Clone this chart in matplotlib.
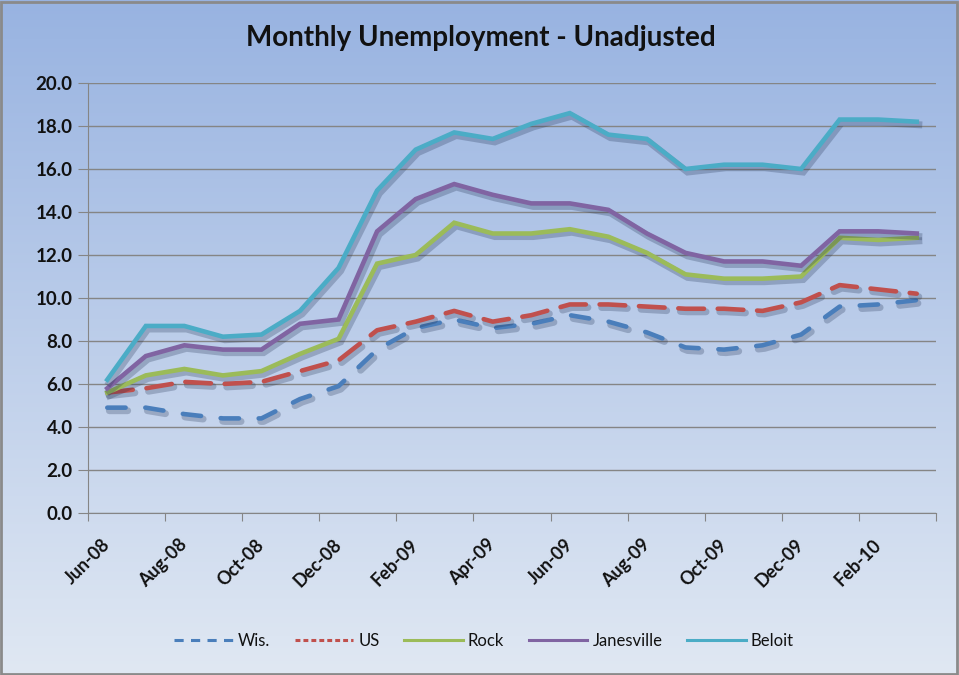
import numpy as np
import matplotlib
matplotlib.use("Agg")
import matplotlib.pyplot as plt
import matplotlib.patheffects as pe
from matplotlib.lines import Line2D
from matplotlib.patches import Rectangle

months = ["Jun-08", "Jul-08", "Aug-08", "Sep-08", "Oct-08", "Nov-08", "Dec-08",
          "Jan-09", "Feb-09", "Mar-09", "Apr-09", "May-09", "Jun-09", "Jul-09",
          "Aug-09", "Sep-09", "Oct-09", "Nov-09", "Dec-09", "Jan-10", "Feb-10", "Mar-10"]

wis = [4.9, 4.9, 4.6, 4.4, 4.4, 5.3, 5.9, 7.6, 8.6, 9.0, 8.6, 8.8, 9.2, 8.9,
       8.4, 7.7, 7.6, 7.8, 8.3, 9.6, 9.7, 9.9]
us = [5.6, 5.8, 6.1, 6.0, 6.1, 6.6, 7.1, 8.5, 8.9, 9.4, 8.9, 9.2, 9.7, 9.7,
      9.6, 9.5, 9.5, 9.4, 9.8, 10.6, 10.4, 10.2]
rock = [5.6, 6.4, 6.7, 6.4, 6.6, 7.4, 8.1, 11.6, 12.0, 13.5, 13.0, 13.0, 13.2, 12.85,
        12.1, 11.1, 10.9, 10.9, 11.0, 12.8, 12.7, 12.8]
janesville = [5.8, 7.3, 7.8, 7.6, 7.6, 8.8, 9.0, 13.1, 14.6, 15.3, 14.8, 14.4, 14.4, 14.1,
              13.0, 12.1, 11.7, 11.7, 11.5, 13.1, 13.1, 13.0]
beloit = [6.2, 8.7, 8.7, 8.2, 8.3, 9.4, 11.4, 15.0, 16.9, 17.7, 17.4, 18.1, 18.6, 17.6,
          17.4, 16.0, 16.2, 16.2, 16.0, 18.3, 18.3, 18.2]

series_names = ["Wis.", "US", "Rock", "Janesville", "Beloit"]
series_vals = [wis, us, rock, janesville, beloit]
colors = ["#4a7ebb", "#c0504d", "#9bbb59", "#8064a2", "#4bacc6"]
dash_patterns = [(4.0, 4.3), (5.6, 3.0), None, None, None]
legend_dashes = [(3.0, 2.4), (1.6, 1.0), None, None, None]

title = "Monthly Unemployment - Unadjusted"
yticks = [0, 2, 4, 6, 8, 10, 12, 14, 16, 18, 20]

W, H = 959, 675
fig = plt.figure(figsize=(W / 100, H / 100), dpi=100)

# background gradient
bg = fig.add_axes([0, 0, 1, 1], zorder=-10)
top = np.array([152, 179, 225]) / 255.0
bot = np.array([224, 232, 243]) / 255.0
t = np.linspace(0, 1, 256)[:, None]
grad = top[None, None, :] * (1 - t[:, :, None]) + bot[None, None, :] * t[:, :, None]
grad = np.repeat(grad, 2, axis=1)
bg.imshow(grad, aspect="auto", extent=[0, 1, 0, 1], origin="upper")
bg.add_patch(Rectangle((0.001, 0.0015), 0.997, 0.996, fill=False,
                       edgecolor="#8a8a8a", linewidth=2.0, transform=bg.transAxes))
bg.set_axis_off()

ax = fig.add_axes([88 / W, 1 - 513 / H, (936 - 88) / W, (513 - 83) / H])
ax.set_facecolor("none")

x = np.arange(len(months))
for name, vals, c, d in zip(series_names, series_vals, colors, dash_patterns):
    ln, = ax.plot(x, vals, color=c, lw=3.3, solid_joinstyle="miter", zorder=3,
                  label=name)
    if d is not None:
        ln.set_dashes(d)
        ln.set_dash_capstyle("round")
    ln.set_path_effects([pe.SimpleLineShadow(offset=(1.5, -2.2), shadow_color="#1a2a4a",
                                             alpha=0.25, linewidth=5.0),
                         pe.Normal()])

ax.set_xlim(-0.5, len(months) - 0.5)
ax.set_ylim(0, 20)

ax.set_yticks(yticks)
ax.set_yticklabels([f"{v:.1f}" for v in yticks], fontsize=13.5, fontweight="bold",
                   family="Lato", color="#111111")
ax.yaxis.grid(True, color="#858585", lw=1.0)
ax.set_axisbelow(True)

# major ticks at month boundaries (every 2 months), labels at every other month
ax.set_xticks(np.arange(-0.5, len(months), 2.0))
ax.set_xticklabels([])
ax.set_xticks(x[::2], [months[i] for i in x[::2]], minor=True)
ax.tick_params(axis="x", which="major", length=6, color="#858585", direction="out")
ax.tick_params(axis="x", which="minor", length=0, pad=21)
ax.tick_params(axis="y", length=7, color="#858585", direction="out", pad=4)
for lbl in ax.get_xticklabels(minor=True):
    lbl.set_rotation(45)
    lbl.set_ha("right")
    lbl.set_va("center")
    lbl.set_rotation_mode("anchor")
    lbl.set_fontweight("bold")
    lbl.set_fontsize(13)
    lbl.set_family("Lato")
    lbl.set_color("#111111")

for s in ["top", "right"]:
    ax.spines[s].set_visible(False)
ax.spines["left"].set_color("#858585")
ax.spines["bottom"].set_color("#858585")

fig.text(481 / W, 1 - 38 / H, title, ha="center", va="center", fontsize=20,
         fontweight="bold", family="Lato", color="#111111")

handles = []
for name, c, d in zip(series_names, colors, legend_dashes):
    h = Line2D([0], [0], color=c, lw=2.2)
    if d is not None:
        h.set_dashes(d)
    handles.append(h)
leg = fig.legend(handles, series_names, loc="center", bbox_to_anchor=(484 / W, 1 - 641 / H),
                 ncol=5, frameon=False, handlelength=3.5, handletextpad=0.3,
                 columnspacing=1.5, prop={"family": "Lato", "size": 12})
for txt in leg.get_texts():
    txt.set_color("#111111")

fig.savefig("out.png", dpi=100)
